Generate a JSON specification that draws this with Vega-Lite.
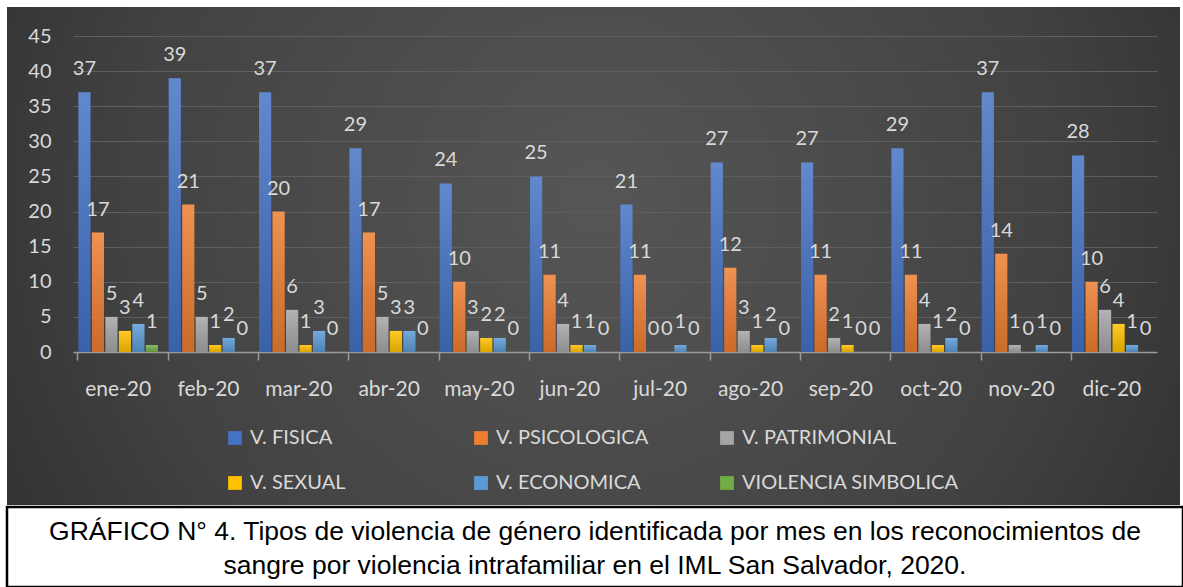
{
  "$schema": "https://vega.github.io/schema/vega-lite/v6.json",
  "background": "#ffffff",
  "padding": {"left": 5, "top": 7, "right": 0, "bottom": 0},
  "config": {"view": {"stroke": null}, "font": "Lato"},
  "datasets": {
    "violencia": [
      {"mes": "ene-20", "tipo": "V. FISICA", "valor": 37},
      {"mes": "ene-20", "tipo": "V. PSICOLOGICA", "valor": 17},
      {"mes": "ene-20", "tipo": "V. PATRIMONIAL", "valor": 5},
      {"mes": "ene-20", "tipo": "V. SEXUAL", "valor": 3},
      {"mes": "ene-20", "tipo": "V. ECONOMICA", "valor": 4},
      {"mes": "ene-20", "tipo": "VIOLENCIA SIMBOLICA", "valor": 1},
      {"mes": "feb-20", "tipo": "V. FISICA", "valor": 39},
      {"mes": "feb-20", "tipo": "V. PSICOLOGICA", "valor": 21},
      {"mes": "feb-20", "tipo": "V. PATRIMONIAL", "valor": 5},
      {"mes": "feb-20", "tipo": "V. SEXUAL", "valor": 1},
      {"mes": "feb-20", "tipo": "V. ECONOMICA", "valor": 2},
      {"mes": "feb-20", "tipo": "VIOLENCIA SIMBOLICA", "valor": 0},
      {"mes": "mar-20", "tipo": "V. FISICA", "valor": 37},
      {"mes": "mar-20", "tipo": "V. PSICOLOGICA", "valor": 20},
      {"mes": "mar-20", "tipo": "V. PATRIMONIAL", "valor": 6},
      {"mes": "mar-20", "tipo": "V. SEXUAL", "valor": 1},
      {"mes": "mar-20", "tipo": "V. ECONOMICA", "valor": 3},
      {"mes": "mar-20", "tipo": "VIOLENCIA SIMBOLICA", "valor": 0},
      {"mes": "abr-20", "tipo": "V. FISICA", "valor": 29},
      {"mes": "abr-20", "tipo": "V. PSICOLOGICA", "valor": 17},
      {"mes": "abr-20", "tipo": "V. PATRIMONIAL", "valor": 5},
      {"mes": "abr-20", "tipo": "V. SEXUAL", "valor": 3},
      {"mes": "abr-20", "tipo": "V. ECONOMICA", "valor": 3},
      {"mes": "abr-20", "tipo": "VIOLENCIA SIMBOLICA", "valor": 0},
      {"mes": "may-20", "tipo": "V. FISICA", "valor": 24},
      {"mes": "may-20", "tipo": "V. PSICOLOGICA", "valor": 10},
      {"mes": "may-20", "tipo": "V. PATRIMONIAL", "valor": 3},
      {"mes": "may-20", "tipo": "V. SEXUAL", "valor": 2},
      {"mes": "may-20", "tipo": "V. ECONOMICA", "valor": 2},
      {"mes": "may-20", "tipo": "VIOLENCIA SIMBOLICA", "valor": 0},
      {"mes": "jun-20", "tipo": "V. FISICA", "valor": 25},
      {"mes": "jun-20", "tipo": "V. PSICOLOGICA", "valor": 11},
      {"mes": "jun-20", "tipo": "V. PATRIMONIAL", "valor": 4},
      {"mes": "jun-20", "tipo": "V. SEXUAL", "valor": 1},
      {"mes": "jun-20", "tipo": "V. ECONOMICA", "valor": 1},
      {"mes": "jun-20", "tipo": "VIOLENCIA SIMBOLICA", "valor": 0},
      {"mes": "jul-20", "tipo": "V. FISICA", "valor": 21},
      {"mes": "jul-20", "tipo": "V. PSICOLOGICA", "valor": 11},
      {"mes": "jul-20", "tipo": "V. PATRIMONIAL", "valor": 0},
      {"mes": "jul-20", "tipo": "V. SEXUAL", "valor": 0},
      {"mes": "jul-20", "tipo": "V. ECONOMICA", "valor": 1},
      {"mes": "jul-20", "tipo": "VIOLENCIA SIMBOLICA", "valor": 0},
      {"mes": "ago-20", "tipo": "V. FISICA", "valor": 27},
      {"mes": "ago-20", "tipo": "V. PSICOLOGICA", "valor": 12},
      {"mes": "ago-20", "tipo": "V. PATRIMONIAL", "valor": 3},
      {"mes": "ago-20", "tipo": "V. SEXUAL", "valor": 1},
      {"mes": "ago-20", "tipo": "V. ECONOMICA", "valor": 2},
      {"mes": "ago-20", "tipo": "VIOLENCIA SIMBOLICA", "valor": 0},
      {"mes": "sep-20", "tipo": "V. FISICA", "valor": 27},
      {"mes": "sep-20", "tipo": "V. PSICOLOGICA", "valor": 11},
      {"mes": "sep-20", "tipo": "V. PATRIMONIAL", "valor": 2},
      {"mes": "sep-20", "tipo": "V. SEXUAL", "valor": 1},
      {"mes": "sep-20", "tipo": "V. ECONOMICA", "valor": 0},
      {"mes": "sep-20", "tipo": "VIOLENCIA SIMBOLICA", "valor": 0},
      {"mes": "oct-20", "tipo": "V. FISICA", "valor": 29},
      {"mes": "oct-20", "tipo": "V. PSICOLOGICA", "valor": 11},
      {"mes": "oct-20", "tipo": "V. PATRIMONIAL", "valor": 4},
      {"mes": "oct-20", "tipo": "V. SEXUAL", "valor": 1},
      {"mes": "oct-20", "tipo": "V. ECONOMICA", "valor": 2},
      {"mes": "oct-20", "tipo": "VIOLENCIA SIMBOLICA", "valor": 0},
      {"mes": "nov-20", "tipo": "V. FISICA", "valor": 37},
      {"mes": "nov-20", "tipo": "V. PSICOLOGICA", "valor": 14},
      {"mes": "nov-20", "tipo": "V. PATRIMONIAL", "valor": 1},
      {"mes": "nov-20", "tipo": "V. SEXUAL", "valor": 0},
      {"mes": "nov-20", "tipo": "V. ECONOMICA", "valor": 1},
      {"mes": "nov-20", "tipo": "VIOLENCIA SIMBOLICA", "valor": 0},
      {"mes": "dic-20", "tipo": "V. FISICA", "valor": 28},
      {"mes": "dic-20", "tipo": "V. PSICOLOGICA", "valor": 10},
      {"mes": "dic-20", "tipo": "V. PATRIMONIAL", "valor": 6},
      {"mes": "dic-20", "tipo": "V. SEXUAL", "valor": 4},
      {"mes": "dic-20", "tipo": "V. ECONOMICA", "valor": 1},
      {"mes": "dic-20", "tipo": "VIOLENCIA SIMBOLICA", "valor": 0}
    ],
    "caption": [
      {"texto": "GRÁFICO N° 4. Tipos de violencia de género identificada por mes en los reconocimientos de\nsangre por violencia intrafamiliar en el IML San Salvador, 2020."}
    ]
  },
  "spacing": 0,
  "resolve": {"scale": {"color": "independent"}, "legend": {"color": "independent"}},
  "vconcat": [
    {
      "width": 1173,
      "height": 498,
      "data": {"name": "violencia"},
      "view": {
        "fill": {
          "gradient": "radial",
          "x1": 0.5, "y1": 0.45, "x2": 0.5, "y2": 0.45, "r1": 0, "r2": 0.72,
          "stops": [
            {"offset": 0, "color": "#565656"},
            {"offset": 0.55, "color": "#424242"},
            {"offset": 1, "color": "#242424"}
          ]
        }
      },
      "encoding": {
        "xOffset": {
          "field": "tipo",
          "type": "nominal",
          "sort": ["V. FISICA", "V. PSICOLOGICA", "V. PATRIMONIAL", "V. SEXUAL", "V. ECONOMICA", "VIOLENCIA SIMBOLICA"],
          "scale": {"paddingInner": 0.1, "paddingOuter": 0.03}
        },
        "y": {
          "field": "valor",
          "type": "quantitative",
          "scale": {"domain": [0, 45], "range": [345, 29], "nice": false},
          "axis": {
            "title": null,
            "orient": "left",
            "offset": -66,
            "values": [0, 5, 10, 15, 20, 25, 30, 35, 40, 45],
            "grid": true,
            "gridColor": "#5e5e5e",
            "gridWidth": 1,
            "domain": false,
            "ticks": false,
            "labelFontSize": 20,
            "labelColor": "#d9d9d9",
            "labelPadding": 22
          }
        }
      },
      "layer": [
        {
          "mark": {"type": "bar"},
          "encoding": {
            "x": {
              "field": "mes",
              "type": "nominal",
              "sort": ["ene-20", "feb-20", "mar-20", "abr-20", "may-20", "jun-20", "jul-20", "ago-20", "sep-20", "oct-20", "nov-20", "dic-20"],
              "scale": {"range": [66, 1150], "paddingInner": 0.11, "paddingOuter": 0.055},
              "axis": {
                "title": null,
                "orient": "bottom",
                "offset": -153,
                "labelAngle": 0,
                "labelFontSize": 21,
                "labelColor": "#d9d9d9",
                "labelPadding": 26,
                "ticks": false,
                "domain": true,
                "domainColor": "#9a9a9a",
                "domainWidth": 1.5
              }
            },
            "color": {
              "field": "tipo",
              "type": "nominal",
              "sort": ["V. FISICA", "V. PSICOLOGICA", "V. PATRIMONIAL", "V. SEXUAL", "V. ECONOMICA", "VIOLENCIA SIMBOLICA"],
              "scale": {
                "domain": ["V. FISICA", "V. PSICOLOGICA", "V. PATRIMONIAL", "V. SEXUAL", "V. ECONOMICA", "VIOLENCIA SIMBOLICA"],
                "range": ["#4472C4", "#ED7D31", "#A5A5A5", "#FFC000", "#5B9BD5", "#70AD47"]
              },
              "legend": {
                "title": null,
                "orient": "none",
                "legendX": 218,
                "legendY": 421,
                "direction": "horizontal",
                "columns": 3,
                "gridAlign": "all",
                "columnPadding": 4,
                "rowPadding": 25,
                "symbolType": "square",
                "symbolSize": 190,
                "symbolStrokeWidth": 0,
                "labelFontSize": 20,
                "labelColor": "#d9d9d9",
                "labelOffset": 5,
                "padding": 0,
                "labelLimit": 400
              }
            }
          }
        },
        {
          "mark": {
            "type": "bar",
            "fill": {
              "gradient": "linear",
              "x1": 0, "y1": 0, "x2": 0, "y2": 1,
              "stops": [
                {"offset": 0, "color": "rgba(255,255,255,0.16)"},
                {"offset": 1, "color": "rgba(0,0,0,0.14)"}
              ]
            }
          },
          "encoding": {
            "x": {
              "field": "mes",
              "type": "nominal",
              "sort": ["ene-20", "feb-20", "mar-20", "abr-20", "may-20", "jun-20", "jul-20", "ago-20", "sep-20", "oct-20", "nov-20", "dic-20"],
              "axis": null
            }
          }
        },
        {
          "mark": {"type": "text", "dy": -23, "fontSize": 20, "color": "#d9d9d9"},
          "encoding": {
            "x": {
              "field": "mes",
              "type": "nominal",
              "sort": ["ene-20", "feb-20", "mar-20", "abr-20", "may-20", "jun-20", "jul-20", "ago-20", "sep-20", "oct-20", "nov-20", "dic-20"],
              "axis": {
                "title": null,
                "orient": "bottom",
                "offset": -153,
                "bandPosition": 0,
                "labels": false,
                "domain": false,
                "ticks": true,
                "tickSize": 8,
                "tickColor": "#9a9a9a",
                "tickWidth": 1.5,
                "grid": false
              }
            },
            "text": {"field": "valor", "type": "quantitative"}
          }
        }
      ],
      "resolve": {"axis": {"x": "independent"}}
    },
    {
      "width": 1176,
      "height": 80,
      "data": {"name": "caption"},
      "view": {"fill": "#ffffff", "stroke": "#000000", "strokeWidth": 2.5},
      "mark": {
        "type": "text",
        "align": "center",
        "baseline": "middle",
        "dy": -15,
        "lineBreak": "\n",
        "lineHeight": 34,
        "font": "Liberation Sans",
        "fontSize": 26.5,
        "color": "#000000"
      },
      "encoding": {
        "x": {"datum": 0.5, "type": "quantitative", "scale": {"domain": [0, 1]}, "axis": null},
        "y": {"datum": 0.5, "type": "quantitative", "scale": {"domain": [0, 1]}, "axis": null},
        "text": {"field": "texto", "type": "nominal"}
      }
    }
  ]
}
